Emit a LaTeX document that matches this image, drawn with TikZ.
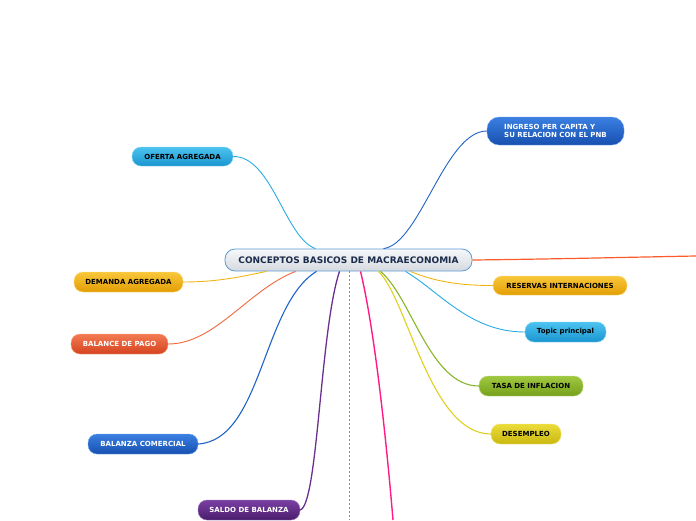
\documentclass[tikz,border=0pt]{standalone}
\usepackage{fontspec}
\setmainfont{DejaVu Sans}
\usetikzlibrary{calc}
\definecolor{lbT}{HTML}{4CC3F0}\definecolor{lbB}{HTML}{1A95CF}\definecolor{lbL}{HTML}{29ABE2}
\definecolor{bT}{HTML}{3A80E2}\definecolor{bB}{HTML}{1750B0}\definecolor{bL}{HTML}{1F63C9}
\definecolor{oT}{HTML}{F8C73A}\definecolor{oB}{HTML}{E39E05}\definecolor{oL}{HTML}{F3B416}
\definecolor{rT}{HTML}{F27A52}\definecolor{rB}{HTML}{D4431E}\definecolor{rL}{HTML}{F0683A}
\definecolor{pT}{HTML}{7A3FA3}\definecolor{pB}{HTML}{4A1D6C}\definecolor{pL}{HTML}{6A3090}
\definecolor{gT}{HTML}{A0C840}\definecolor{gB}{HTML}{76A01C}\definecolor{gL}{HTML}{8AB52A}
\definecolor{yT}{HTML}{EBDC3A}\definecolor{yB}{HTML}{CBB811}\definecolor{yL}{HTML}{E0CF1E}
\definecolor{pinkL}{HTML}{FF1A85}
\definecolor{redL}{HTML}{FF5A2A}
\definecolor{navy}{HTML}{1A2B4C}
\definecolor{cT}{HTML}{F6F8FA}\definecolor{cB}{HTML}{D5DADF}\definecolor{cBorder}{HTML}{5B9BD5}
\begin{document}
\begin{tikzpicture}[x=1pt,y=-1pt,
  topic/.style={rounded corners=9pt, minimum height=20pt, inner sep=0pt,
    font=\bfseries\fontsize{7}{8.3}\selectfont, align=center},
  tlb/.style={topic, top color=lbT, bottom color=lbB, draw=lbT!70!white, text=black},
  tb/.style={topic, top color=bT, bottom color=bB, draw=bT!70!white, text=white},
  tor/.style={topic, top color=oT, bottom color=oB, draw=oT!70!white, text=black},
  tr/.style={topic, top color=rT, bottom color=rB, draw=rT!70!white, text=white},
  tp/.style={topic, top color=pT, bottom color=pB, draw=pT!70!white, text=white},
  tg/.style={topic, top color=gT, bottom color=gB, draw=gT!70!white, text=black},
  ty/.style={topic, top color=yT, bottom color=yB, draw=yT!70!white, text=black},
  link/.style={line width=0.9pt}
]
\useasboundingbox (0,0) rectangle (696,520);

\coordinate (redend) at (696,256);
\coordinate (pinkend) at (393,520);
\coordinate (dashend) at (349,520);

\node[rounded corners=10pt, minimum width=247pt, minimum height=22pt, inner sep=0pt,
  top color=cT, bottom color=cB, draw=cBorder, line width=0.8pt, text=navy,
  font=\bfseries\fontsize{9}{10}\selectfont] (c) at (348.5,260) {CONCEPTOS BASICOS DE MACRAECONOMIA};

\node[tb, minimum width=137pt, minimum height=28pt, rounded corners=12pt, align=left] (ing) at (555.5,131) {INGRESO PER CAPITA Y\\SU RELACION CON EL PNB};
\node[tlb, minimum width=101pt, minimum height=19pt] (ofe) at (182.5,156.5) {OFERTA AGREGADA};
\node[tor, minimum width=109pt] (dem) at (128.5,282) {DEMANDA AGREGADA};
\node[tr, minimum width=97pt] (bal) at (119.5,344) {BALANCE DE PAGO};
\node[tb, minimum width=110pt] (bcom) at (143,444) {BALANZA COMERCIAL};
\node[tp, minimum width=102pt] (sal) at (249,510) {SALDO DE BALANZA};
\node[tor, minimum width=134pt, minimum height=19pt] (res) at (560,285.5) {RESERVAS INTERNACIONES};
\node[tlb, minimum width=81pt] (top) at (565.5,332) {Topic principal};
\node[tg, minimum width=104pt] (tas) at (531,386) {TASA DE INFLACION};
\node[ty, minimum width=70pt] (des) at (526,434) {DESEMPLEO};

% links
\draw[link, lbL] (ofe.east) .. controls (272,156) and (285,238) .. ($(c.north)+(-33,0)$);
\draw[link, bL] (ing.west) .. controls (445,131) and (420,244) .. ($(c.north)+(35,0)$);
\draw[link, redL, line width=1.2pt] (c.east) .. controls (560,259) and (640,257) .. (redend);
\draw[link, oL] ($(c.south)+(62,0)$) .. controls (440,284) and (470,285.5) .. (res.west);
\draw[link, lbL] ($(c.south)+(57,0)$) .. controls (440,292) and (470,332) .. (top.west);
\draw[link, gL, line width=1.1pt] ($(c.south)+(32,0)$) .. controls (412,298) and (430,386) .. (tas.west);
\draw[link, yL, line width=1.1pt] ($(c.south)+(30,0)$) .. controls (408,300) and (430,434) .. (des.west);
\draw[link, oL] (dem.east) .. controls (222,282) and (248,275) .. ($(c.south)+(-82,0)$);
\draw[link, rL] (bal.east) .. controls (215,344) and (248,290) .. ($(c.south)+(-53,0)$);
\draw[link, bL, line width=1.1pt] (bcom.east) .. controls (262,440) and (262,305) .. ($(c.south)+(-32,0)$);
\draw[link, pL, line width=1.3pt] (sal.east) .. controls (318,505) and (320,330) .. ($(c.south)+(-9,0)$);
\draw[link, pinkL, line width=1.4pt] ($(c.south)+(12,0)$) .. controls (376,335) and (388,460) .. (pinkend);
\draw[cBorder, line width=0.7pt, dash pattern=on 2pt off 2pt] (c.south) ++(0.5,0) -- (dashend);
\end{tikzpicture}
\end{document}
